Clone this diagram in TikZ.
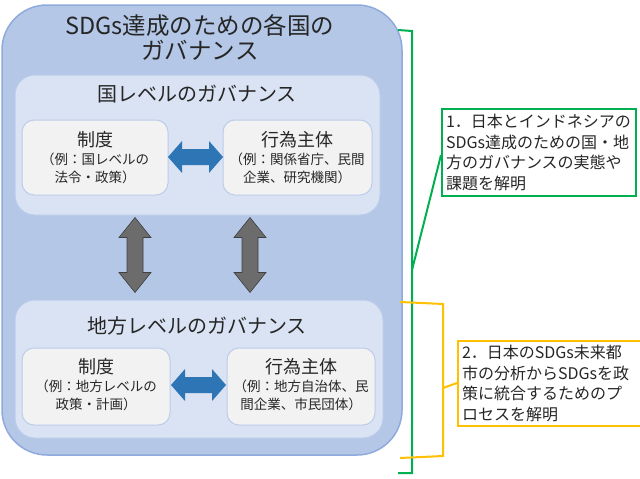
\documentclass[tikz,border=0pt]{standalone}
\usepackage{fontspec}
\setmainfont{Noto Sans CJK JP}
\definecolor{outerfill}{HTML}{B4C7E7}
\definecolor{outerline}{HTML}{8FAADC}
\definecolor{innerfill}{HTML}{DAE3F3}
\definecolor{boxfill}{HTML}{F2F2F2}
\definecolor{arrblue}{HTML}{2E75B6}
\definecolor{bgreen}{HTML}{00B050}
\definecolor{borange}{HTML}{FFC000}
\definecolor{txt}{HTML}{262626}
\tikzset{
  outer/.style = {draw=outerline, fill=outerfill, line width=1.5pt, rounded corners=45pt},
  inner/.style = {draw=outerline!60, fill=innerfill, line width=1pt, rounded corners=20pt},
  small/.style = {draw=outerline!60, fill=boxfill, line width=1pt, rounded corners=12pt},
  harrow/.style = {fill=arrblue},
  varrow/.style = {fill=gray!85!black, draw=gray!50!black, line width=0.6pt},
  note/.style = {line width=2pt, align=left, anchor=north west, inner sep=4pt,
    font=\fontsize{16}{20.5}\selectfont, text=txt}
}
% horizontal double arrow centred on a coordinate
\newcommand\hdarrow[1]{%
  \fill[harrow] ([xshift=-27.5pt]#1) -- ++(14,-16) -- ++(0,8) -- ++(27,0) -- ++(0,-8)
    -- ([xshift=27.5pt]#1) -- ++(-14,16) -- ++(0,-8) -- ++(-27,0) -- ++(0,8) -- cycle;}
% vertical double arrow centred on a coordinate
\newcommand\vdarrow[1]{%
  \filldraw[varrow] ([yshift=37.5pt]#1) -- ++(16,20) -- ++(-8,0) -- ++(0,35) -- ++(8,0)
    -- ([yshift=-37.5pt]#1) -- ++(-16,-20) -- ++(8,0) -- ++(0,-35) -- ++(-8,0) -- cycle;}
\begin{document}
\begin{tikzpicture}[x=1pt, y=-1pt, text=txt]
\useasboundingbox (0,0) rectangle (640,479);
% outer governance box
\draw[outer] (2,5) rectangle (402,455);
\node (title) at (200,37) [align=center, font=\fontsize{23.5}{25}\selectfont]
  {SDGs達成のための各国の\\ガバナンス};
% national level
\draw[inner] (15,75) rectangle (380,215);
\node (ntitle) at (197,94) [font=\fontsize{20}{22}\selectfont] {国レベルのガバナンス};
\draw[small] (22,120) rectangle (168,195);
\draw[small] (223,120) rectangle (372,195);
\node (ninst) at (95,158) [align=center, font=\fontsize{13.5}{18}\selectfont]
  {{\fontsize{18}{21}\selectfont 制度}\\（例：国レベルの\\法令・政策）};
\node (nact) at (297,158) [align=center, font=\fontsize{13.5}{18}\selectfont]
  {{\fontsize{18}{21}\selectfont 行為主体}\\（例：関係省庁、民間\\企業、研究機関）};
\coordinate (narr) at (195.5,157);
\hdarrow{narr}
% vertical links
\coordinate (vleft) at (135,255);
\coordinate (vright) at (250,255);
\vdarrow{vleft}
\vdarrow{vright}
% local level
\draw[inner] (15,300) rectangle (383,438);
\node (ltitle) at (197,326) [font=\fontsize{20}{22}\selectfont] {地方レベルのガバナンス};
\draw[small] (22,348) rectangle (170,425);
\draw[small] (227,348) rectangle (375,425);
\node (linst) at (96,385) [align=center, font=\fontsize{13.5}{18}\selectfont]
  {{\fontsize{18}{21}\selectfont 制度}\\（例：地方レベルの\\政策・計画）};
\node (lact) at (301,385) [align=center, font=\fontsize{13.5}{18}\selectfont]
  {{\fontsize{18}{21}\selectfont 行為主体}\\（例：地方自治体、民\\間企業、市民団体）};
\coordinate (larr) at (198.5,385);
\hdarrow{larr}
% notes
\node (note1) at (441,108) [note, draw=bgreen, text width=186pt, minimum height=87pt]
  {1．日本とインドネシアの\\SDGs達成のための国・地\\方のガバナンスの実態や\\課題を解明};
\node (note2) at (457,340) [note, draw=borange, text width=175pt, minimum height=85pt]
  {2．日本のSDGs未来都\\市の分析からSDGsを政\\策に統合するためのプ\\ロセスを解明};
% brackets
\coordinate (gtip) at (412,270);
\coordinate (otip) at (443,388);
\draw[bgreen, line width=2pt] (398,30) -- (412,31) -- (412,473) -- (398,473);
\draw[bgreen, line width=2pt] (gtip) -- (note1.south west |- 0,155);
\draw[borange, line width=2pt] (400,302) -- (443,304) -- (443,456) -- (400,458);
\draw[borange, line width=2pt] (otip) -- (note2.west |- 0,383);
\end{tikzpicture}
\end{document}
